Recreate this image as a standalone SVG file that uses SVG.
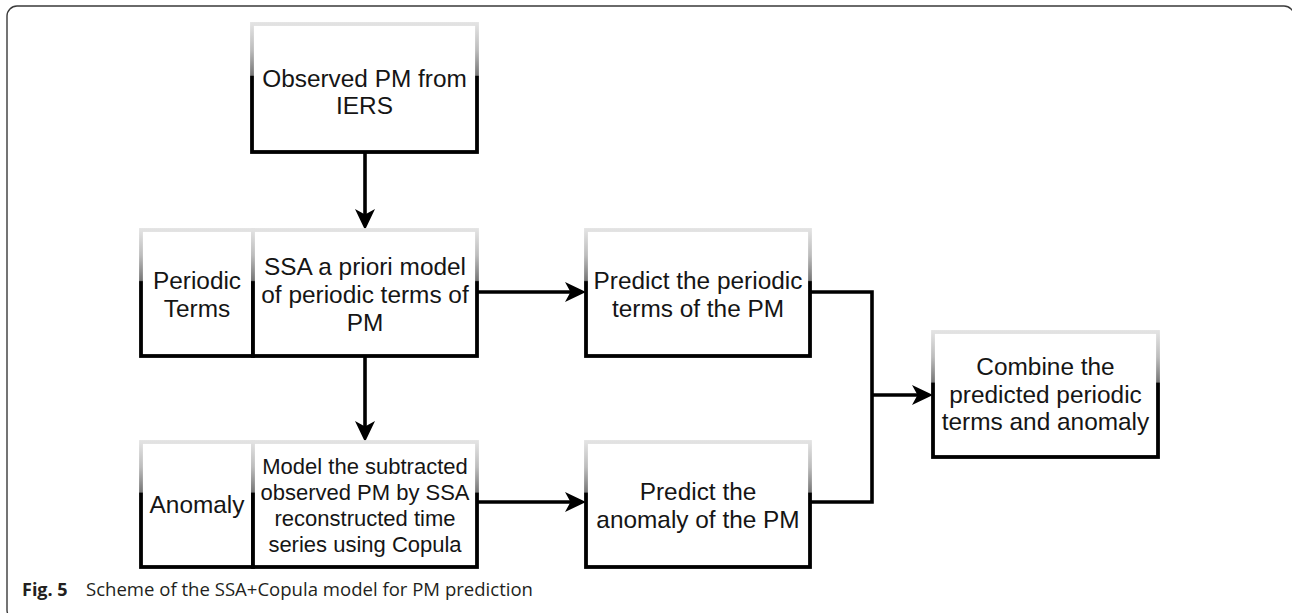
<svg xmlns="http://www.w3.org/2000/svg" width="1292" height="613" viewBox="0 0 1292 613">
  <style>
    .box { fill: #ffffff; stroke: url(#edge); stroke-width: 3.8; }
    .t { font-family: "Liberation Sans", Arial, Helvetica, sans-serif; font-size: 24.4px; fill: #151515; text-anchor: middle; }
    .ts { font-size: 22px; }
    .conn { fill: none; stroke: #000; stroke-width: 3.6; }
    .cap { font-family: "Open Sans", "Noto Sans", sans-serif; font-size: 18px; fill: #231f20; }
  </style>
  <defs>
    <linearGradient id="edge" x1="0" y1="0" x2="0" y2="1">
      <stop offset="0" stop-color="#e2e2e2"/>
      <stop offset="0.2" stop-color="#bdbdbd"/>
      <stop offset="0.4" stop-color="#777777"/>
      <stop offset="0.41" stop-color="#000000"/>
      <stop offset="1" stop-color="#000000"/>
    </linearGradient>
    <marker id="arr" markerUnits="userSpaceOnUse" markerWidth="22" markerHeight="22" refX="12" refY="10" orient="auto">
      <path d="M0,0 L21,10 L0,20 L5.5,10 Z" fill="#000"/>
    </marker>
  </defs>

  <rect x="7" y="6" width="1287" height="614" rx="10" ry="10" fill="none" stroke="#3a3a3a" stroke-width="1.4"/>

  <g id="connectors">
    <line class="conn" x1="365" y1="152" x2="365" y2="221" marker-end="url(#arr)"/>
    <line class="conn" x1="477" y1="292" x2="577" y2="292" marker-end="url(#arr)"/>
    <line class="conn" x1="365" y1="356" x2="365" y2="433" marker-end="url(#arr)"/>
    <line class="conn" x1="477" y1="502" x2="577" y2="502" marker-end="url(#arr)"/>
    <polyline class="conn" points="810,292 872,292 872,502 810,502"/>
    <line class="conn" x1="872" y1="395" x2="924" y2="395" marker-end="url(#arr)"/>
  </g>

  <g id="observed">
    <rect class="box" x="252" y="24" width="225" height="128"/>
    <text class="t" x="364.5" y="87">Observed PM from</text>
    <text class="t" x="364.5" y="114">IERS</text>
  </g>

  <g id="periodic-label">
    <rect class="box" x="141" y="230" width="112" height="126"/>
    <text class="t" x="197" y="289">Periodic</text>
    <text class="t" x="197" y="317">Terms</text>
  </g>

  <g id="ssa-model">
    <rect class="box" x="253" y="230" width="224" height="126"/>
    <text class="t" x="365" y="275">SSA a priori model</text>
    <text class="t" x="365" y="303">of periodic terms of</text>
    <text class="t" x="365" y="331">PM</text>
  </g>

  <g id="predict-periodic">
    <rect class="box" x="586" y="230" width="224" height="126"/>
    <text class="t" x="698" y="289">Predict the periodic</text>
    <text class="t" x="698" y="317">terms of the PM</text>
  </g>

  <g id="anomaly-label">
    <rect class="box" x="141" y="442" width="112" height="125"/>
    <text class="t" x="197" y="513">Anomaly</text>
  </g>

  <g id="copula-model">
    <rect class="box" x="253" y="442" width="224" height="125"/>
    <text class="t ts" x="365" y="474">Model the subtracted</text>
    <text class="t ts" x="365" y="500">observed PM by SSA</text>
    <text class="t ts" x="365" y="526">reconstructed time</text>
    <text class="t ts" x="365" y="552">series using Copula</text>
  </g>

  <g id="predict-anomaly">
    <rect class="box" x="586" y="442" width="224" height="125"/>
    <text class="t" x="698" y="500">Predict the</text>
    <text class="t" x="698" y="528">anomaly of the PM</text>
  </g>

  <g id="combine">
    <rect class="box" x="933" y="332" width="225" height="125"/>
    <text class="t" x="1045.5" y="375">Combine the</text>
    <text class="t" x="1045.5" y="403">predicted periodic</text>
    <text class="t" x="1045.5" y="430">terms and anomaly</text>
  </g>

  <g id="caption">
    <text class="cap" x="22" y="596"><tspan font-weight="bold">Fig. 5</tspan></text>
    <text class="cap" x="86" y="596" textLength="447" lengthAdjust="spacingAndGlyphs">Scheme of the SSA+Copula model for PM prediction</text>
  </g>
</svg>
